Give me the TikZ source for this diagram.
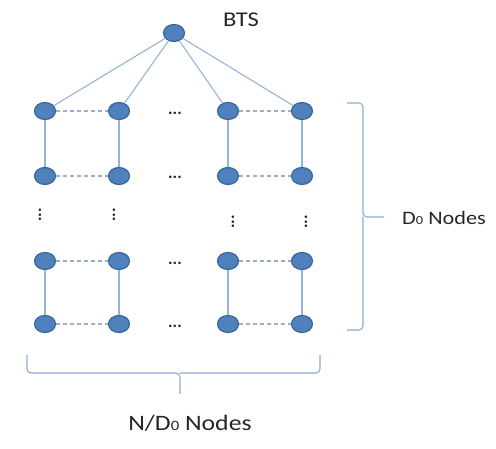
\documentclass[tikz,border=0pt]{standalone}
\usepackage{fontspec}
\setmainfont{Carlito}
\usetikzlibrary{shapes.geometric}
\definecolor{nodefill}{HTML}{4F81BD}
\definecolor{nodedraw}{HTML}{3A6498}
\definecolor{linkcol}{HTML}{95B3D7}
\definecolor{dashcol}{HTML}{9AAFCB}
\definecolor{bracecol}{HTML}{8EAAD2}
\definecolor{txtcol}{HTML}{262626}
\tikzset{
  sensor/.style={ellipse, fill=nodefill, draw=nodedraw, line width=1.2pt, minimum width=21pt, minimum height=17pt, inner sep=0pt},
  link/.style={draw=linkcol, line width=1.6pt},
  uplink/.style={draw=linkcol, line width=1.1pt},
  dlink/.style={draw=dashcol, line width=1.1pt, dash pattern=on 4pt off 3pt},
  hdots/.style={font=\bfseries\fontsize{17}{17}\selectfont, text=txtcol, inner sep=0pt},
  vdots/.style={font=\bfseries\fontsize{17}{17}\selectfont, text=txtcol, inner sep=0pt, rotate=90},
  lbl/.style={text=txtcol, inner sep=0pt},
  bracestyle/.style={draw=bracecol, line width=1.1pt, rounded corners=4pt}
}
\newcommand{\subz}{\raisebox{-0.5pt}{\fontsize{0.65em}{1em}\selectfont 0}}
\newcommand{\stretchtxt}[2]{\scalebox{1.17}[1]{\fontsize{#1}{#1}\selectfont #2}}
\begin{document}
\begin{tikzpicture}[x=1pt,y=-1pt]
\useasboundingbox (0,0) rectangle (496,449);
% nodes
\node[sensor] (bts) at (174,33) {};
\foreach \c/\x in {1/45,2/119,3/228,4/302}{
  \foreach \r/\y in {1/111,2/176,3/261,4/324}{
    \node[sensor] (n\r\c) at (\x,\y) {};
  }
}
% links to BTS
\foreach \c in {1,2,3,4}{ \draw[uplink] (bts) -- (n1\c); }
% vertical solid links
\foreach \c in {1,2,3,4}{
  \draw[link] (n1\c) -- (n2\c);
  \draw[link] (n3\c) -- (n4\c);
}
% horizontal dashed links
\foreach \r in {1,2,3,4}{
  \draw[dlink] (n\r1) -- (n\r2);
  \draw[dlink] (n\r3) -- (n\r4);
}
% horizontal ellipses
\foreach \r/\y in {1/113,2/177,3/263,4/326}{
  \node[hdots] (hd\r) at (175,\y) {...};
}
% vertical ellipses
\node[vdots] (vd1) at (40,215) {...};
\node[vdots] (vd2) at (114,215) {...};
\node[vdots] (vd3) at (233,222) {...};
\node[vdots] (vd4) at (306,222) {...};
% labels
\node[lbl] (btslbl) at (241,20) {\stretchtxt{21}{BTS}};
\node[lbl] (dlbl) at (444,218) {\stretchtxt{19}{D\subz\ Nodes}};
\node[lbl] (nlbl) at (190,423) {\stretchtxt{22}{N/D\subz\ Nodes}};
% right brace
\coordinate (rb1) at (347,103);
\coordinate (rb2) at (347,330);
\coordinate (rtip) at (384,217);
\draw[bracestyle] (rb1) -- (363,103) -- (363,217) -- (rtip);
\draw[bracestyle] (rb2) -- (363,330) -- (363,217);
% bottom brace
\coordinate (bb1) at (27,355);
\coordinate (bb2) at (320,355);
\coordinate (btip) at (180,394);
\draw[bracestyle] (bb1) -- (27,373) -- (180,373) -- (btip);
\draw[bracestyle] (bb2) -- (320,373) -- (180,373);
\end{tikzpicture}
\end{document}
